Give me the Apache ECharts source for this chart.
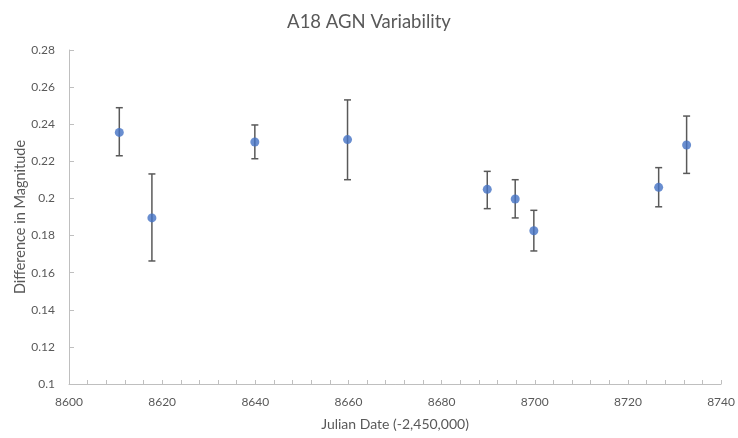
<!DOCTYPE html>
<html>
<head>
<meta charset="utf-8">
<script src="https://cdn.jsdelivr.net/npm/echarts@6/dist/echarts.min.js"></script>
<style>
html,body{margin:0;padding:0;background:#fff;}
#chart{width:738px;height:438px;}
</style>
</head>
<body>
<div id="chart"></div>
<script>
// Data
const julianDates = [8610.8, 8617.8, 8639.9, 8659.8, 8689.8, 8695.8, 8699.8, 8726.6, 8732.6];
const magnitudeDiff = [0.2356, 0.1895, 0.2304, 0.2317, 0.2049, 0.1997, 0.1826, 0.2060, 0.2288];
const errorUpper = [0.2489, 0.2132, 0.2396, 0.2531, 0.2146, 0.2101, 0.1936, 0.2166, 0.2444];
const errorLower = [0.2230, 0.1663, 0.2214, 0.2101, 0.1945, 0.1895, 0.1717, 0.1955, 0.2135];

const titleText = 'A18 AGN Variability';
const xAxisTitle = 'Julian Date (-2,450,000)';
const yAxisTitle = 'Difference in Magnitude';

const pointData = julianDates.map((d, i) => [d, magnitudeDiff[i]]);
const errData = julianDates.map((d, i) => [d, errorLower[i], errorUpper[i]]);

const FONT = 'Lato';
const TEXT = '#595959';
const AXIS = '#bfbfbf';

const chart = echarts.init(document.getElementById('chart'), null, {renderer: 'canvas'});
chart.setOption({
  animation: false,
  backgroundColor: '#ffffff',
  title: {
    text: titleText,
    left: 'center',
    top: 8,
    textStyle: {fontFamily: FONT, fontSize: 18.5, fontWeight: 'normal', color: TEXT}
  },
  grid: {left: 69, right: 16, top: 50, bottom: 54, containLabel: false},
  xAxis: {
    type: 'value',
    min: 8600, max: 8740, interval: 20,
    name: xAxisTitle,
    nameLocation: 'middle',
    nameGap: 33,
    nameTextStyle: {fontFamily: FONT, fontSize: 14, color: TEXT},
    axisLine: {show: true, lineStyle: {color: AXIS, width: 1}},
    axisTick: {show: true, inside: true, length: 4, lineStyle: {color: AXIS}},
    minorTick: {show: true, splitNumber: 5, length: 4, lineStyle: {color: AXIS}},
    axisLabel: {fontFamily: FONT, fontSize: 12, color: TEXT, margin: 12,
      formatter: function (v) { return String(v); }},
    splitLine: {show: false}
  },
  yAxis: {
    type: 'value',
    min: 0.1, max: 0.28, interval: 0.02,
    name: yAxisTitle,
    nameLocation: 'middle',
    nameRotate: 90,
    nameGap: 41,
    nameMoveOverlap: false,
    nameTextStyle: {fontFamily: FONT, fontSize: 14.5, color: TEXT},
    axisLine: {show: true, lineStyle: {color: AXIS, width: 1}},
    axisTick: {show: true, inside: true, length: 5, lineStyle: {color: AXIS}},
    axisLabel: {fontFamily: FONT, fontSize: 12, color: TEXT, margin: 14},
    splitLine: {show: false}
  },
  series: [
    {
      type: 'custom',
      data: errData,
      encode: {x: 0, y: [1, 2]},
      z: 2,
      renderItem: function (params, api) {
        const x = api.value(0);
        const lo = api.coord([x, api.value(1)]);
        const hi = api.coord([x, api.value(2)]);
        const hw = 3.5;
        const st = {stroke: '#595959', lineWidth: 1.5};
        return {
          type: 'group',
          children: [
            {type: 'line', shape: {x1: hi[0], y1: hi[1], x2: lo[0], y2: lo[1]}, style: st},
            {type: 'line', shape: {x1: hi[0] - hw, y1: hi[1], x2: hi[0] + hw, y2: hi[1]}, style: st},
            {type: 'line', shape: {x1: lo[0] - hw, y1: lo[1], x2: lo[0] + hw, y2: lo[1]}, style: st}
          ]
        };
      }
    },
    {
      type: 'scatter',
      data: pointData,
      symbol: 'circle',
      symbolSize: 9,
      z: 3,
      itemStyle: {color: '#4472C4'}
    }
  ]
});
</script>
</body>
</html>
